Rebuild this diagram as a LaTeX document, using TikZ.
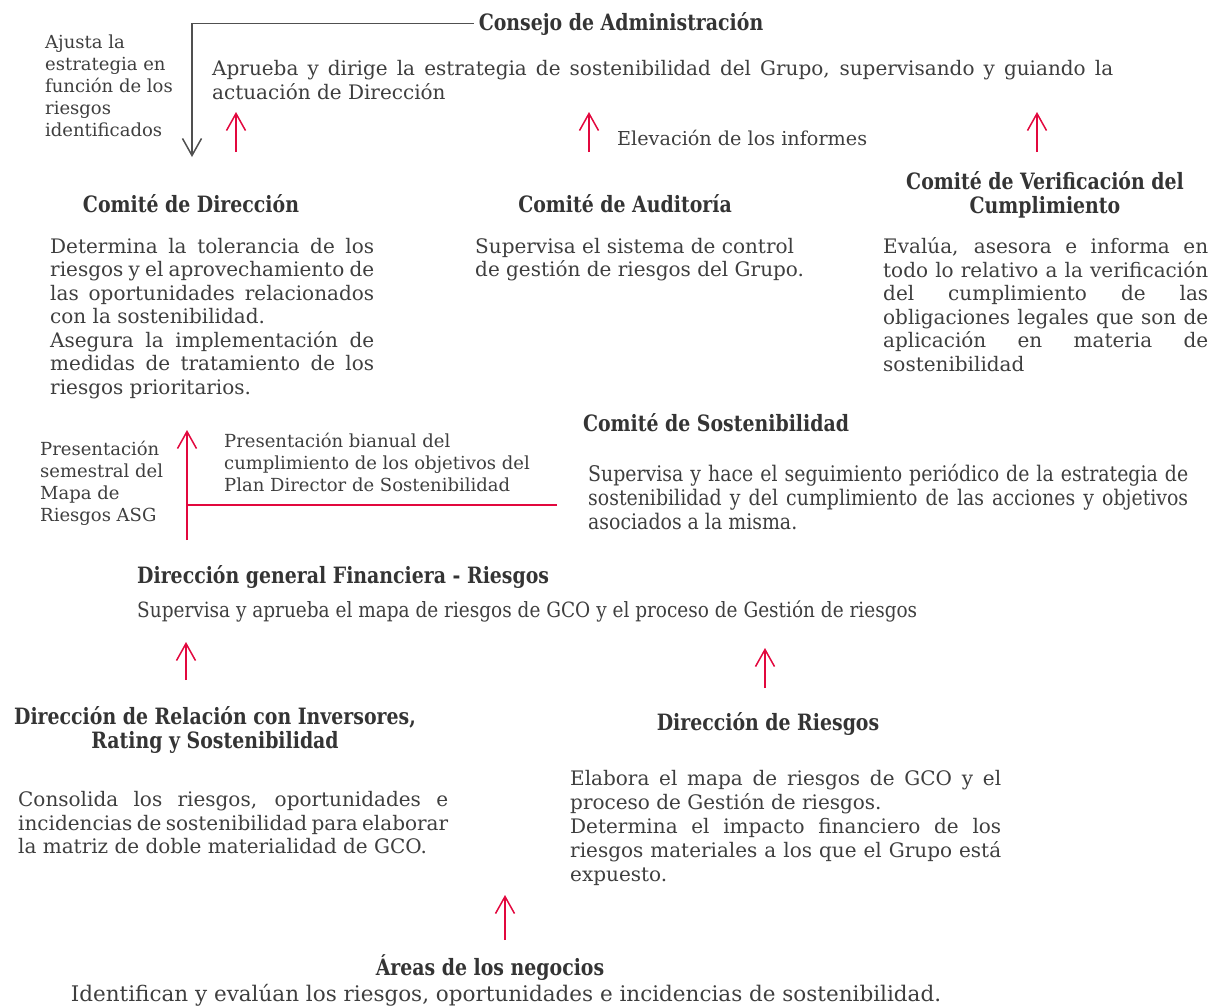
\documentclass[tikz,border=0pt]{standalone}
\usepackage{fontspec}
\setmainfont{DejaVu Serif}
\newfontfamily\titfont[FakeStretch=0.84]{DejaVu Serif}
\newfontfamily\condfont[FakeStretch=0.88]{DejaVu Serif}
\usetikzlibrary{arrows.meta}
\definecolor{gcored}{RGB}{226,8,62}
\definecolor{txtgray}{RGB}{62,62,62}
\definecolor{ttlgray}{RGB}{52,52,52}
\definecolor{lngray}{RGB}{80,80,80}
% justified line of a given width
\newcommand\jl[2]{\makebox[#1][s]{#2}}

\begin{document}
\begin{tikzpicture}[x=1pt,y=-1pt,
  ttl/.style={font=\titfont\bfseries\fontsize{22.5}{24.5}\selectfont,text=ttlgray,inner sep=0pt,align=center},
  body/.style={font=\fontsize{20}{23.5}\selectfont,text=txtgray,inner sep=0pt,align=left,execute at begin node=\strut},
  note/.style={font=\fontsize{18}{22}\selectfont,text=txtgray,inner sep=0pt,align=left,execute at begin node=\strut},
  uparr/.style={draw=gcored,line width=1.5pt,-{Straight Barb[length=17pt,width=19pt]}},
  redln/.style={draw=gcored,line width=1.5pt},
  grayarr/.style={draw=lngray,line width=1.5pt,-{Straight Barb[length=17pt,width=19pt]}}]
  \useasboundingbox (0,0) rectangle (1216,1007);

  % Consejo de Administracion
  \node[ttl,anchor=base] (cons) at (621,30) {Consejo de Administración};
  \node[body,anchor=north west] (constxt) at (212,60.5) {\jl{901pt}{Aprueba y dirige la estrategia de sostenibilidad del Grupo, supervisando y guiando la}\\actuación de Dirección};
  \node[note,anchor=north west] (ajusta) at (45,34.6) {Ajusta la\\estrategia en\\función de los\\riesgos\\identificados};
  \node[note,anchor=base west,font=\fontsize{19.2}{22}\selectfont] (elev) at (617,145) {Elevación de los informes};

  \coordinate (ajEnd) at (192,157);
  \draw[grayarr] ([xshift=-5pt]cons.west) -| (ajEnd);
  \coordinate (e1s) at (236,152); \coordinate (e1e) at (236,112);
  \coordinate (e2s) at (589,152); \coordinate (e2e) at (589,112);
  \coordinate (e3s) at (1037,152); \coordinate (e3e) at (1037,112);
  \draw[uparr] (e1s) -- (e1e);
  \draw[uparr] (e2s) -- (e2e);
  \draw[uparr] (e3s) -- (e3e);

  % Comites
  \node[ttl,anchor=base] (cdir) at (191,212) {Comité de Dirección};
  \node[ttl,anchor=base] (caud) at (625,212) {Comité de Auditoría};
  \node[ttl,anchor=north,execute at begin node=\strut] (cver) at (1045,170.8) {Comité de Verificación del\\Cumplimiento};

  \node[body,anchor=north west] (cdirtxt) at (50,238) {\jl{324pt}{Determina la tolerancia de los}\\\jl{324pt}{riesgos y el aprovechamiento de}\\\jl{324pt}{las oportunidades relacionados}\\con la sostenibilidad.\\\jl{324pt}{Asegura la implementación de}\\\jl{324pt}{medidas de tratamiento de los}\\riesgos prioritarios.};
  \node[body,anchor=north west] (caudtxt) at (475,238) {Supervisa el sistema de control\\de gestión de riesgos del Grupo.};
  \node[body,anchor=north west] (cvertxt) at (883,237.5) {\jl{325pt}{Evalúa, asesora e informa en}\\\jl{325pt}{todo lo relativo a la verificación}\\\jl{325pt}{del cumplimiento de las}\\\jl{325pt}{obligaciones legales que son de}\\\jl{325pt}{aplicación en materia de}\\sostenibilidad};

  % Comite de Sostenibilidad
  \node[ttl,anchor=base] (csos) at (716,431) {Comité de Sostenibilidad};
  \node[body,anchor=north west,font=\condfont\fontsize{21.5}{24}\selectfont] (csostxt) at (588,464) {\jl{600pt}{Supervisa y hace el seguimiento periódico de la estrategia de}\\\jl{600pt}{sostenibilidad y del cumplimiento de las acciones y objetivos}\\asociados a la misma.};
  \node[note,anchor=north west] (psem) at (40,440.6) {Presentación\\semestral del\\Mapa de\\Riesgos ASG};
  \node[note,anchor=north west] (pbia) at (224,432.6) {Presentación bianual del\\cumplimiento de los objetivos del\\Plan Director de Sostenibilidad};

  \coordinate (pmBot) at (187,540); \coordinate (pmTop) at (187,430);
  \coordinate (pbEnd) at (557,505);
  \draw[uparr] (pmBot) -- (pmTop);
  \draw[redln] (pbEnd) -- (pbEnd -| pmBot);

  % Direccion general Financiera
  \node[ttl,anchor=base west] (dgf) at (137,583) {Dirección general Financiera - Riesgos};
  \node[body,anchor=base west,font=\condfont\fontsize{21}{23.5}\selectfont] (dgftxt) at (137,617) {Supervisa y aprueba el mapa de riesgos de GCO y el proceso de Gestión de riesgos};

  \coordinate (f1s) at (186,680); \coordinate (f1e) at (186,642);
  \coordinate (f2s) at (765,688); \coordinate (f2e) at (765,648);
  \draw[uparr] (f1s) -- (f1e);
  \draw[uparr] (f2s) -- (f2e);

  % Direcciones
  \node[ttl,anchor=north,execute at begin node=\strut] (drel) at (215,705.8) {Dirección de Relación con Inversores,\\Rating y Sostenibilidad};
  \node[ttl,anchor=base] (drie) at (768,730) {Dirección de Riesgos};
  \node[body,anchor=north west] (dreltxt) at (18,791.5) {\jl{430pt}{Consolida los riesgos, oportunidades e}\\\jl{430pt}{incidencias de sostenibilidad para elaborar}\\la matriz de doble materialidad de GCO.};
  \node[body,anchor=north west,font=\fontsize{20}{24}\selectfont] (drietxt) at (570,770.5) {\jl{431pt}{Elabora el mapa de riesgos de GCO y el}\\proceso de Gestión de riesgos.\\\jl{431pt}{Determina el impacto financiero de los}\\\jl{431pt}{riesgos materiales a los que el Grupo está}\\expuesto.};

  \coordinate (n1s) at (505,940); \coordinate (n1e) at (505,895);
  \draw[uparr] (n1s) -- (n1e);

  % Areas de los negocios
  \node[ttl,anchor=base] (areas) at (490,975) {Áreas de los negocios};
  \node[body,anchor=base,font=\fontsize{21.5}{24}\selectfont] (areastxt) at (506,1001) {Identifican y evalúan los riesgos, oportunidades e incidencias de sostenibilidad.};
\end{tikzpicture}
\end{document}
